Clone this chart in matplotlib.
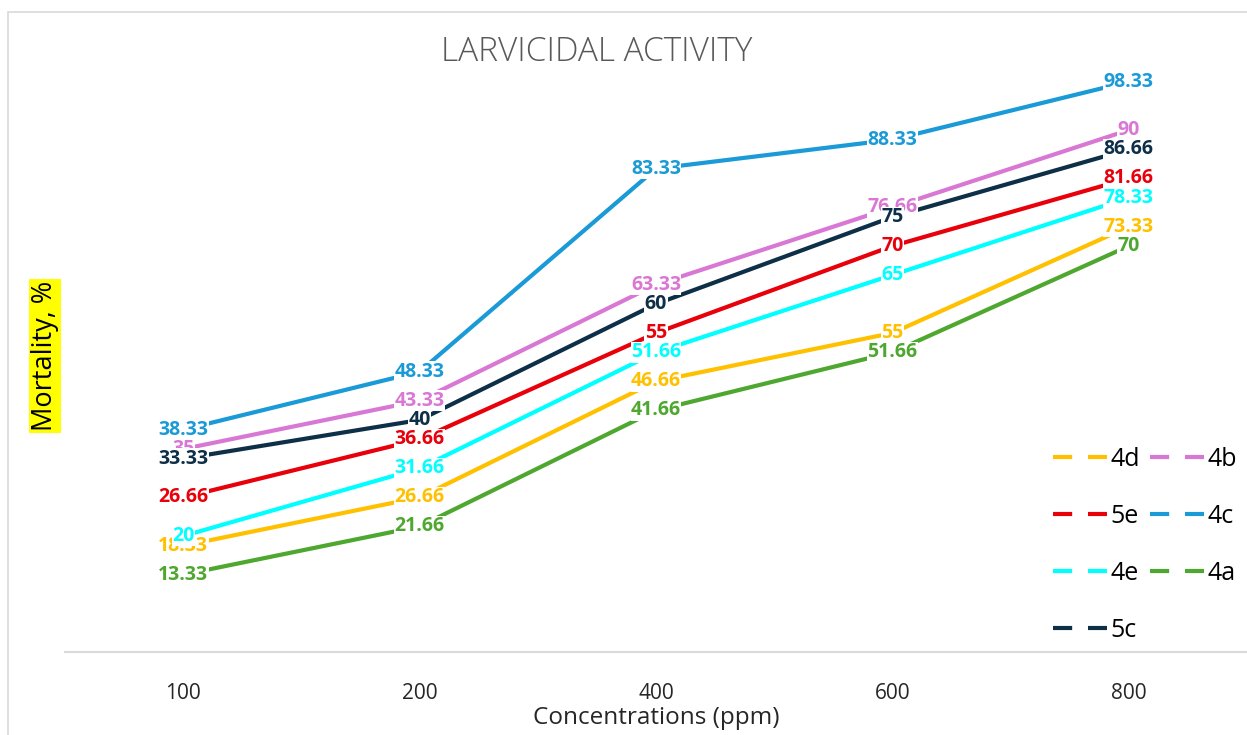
import matplotlib.pyplot as plt
from matplotlib.lines import Line2D
from matplotlib.patches import Rectangle

plt.rcParams['font.family'] = ['Open Sans', 'DejaVu Sans']

# 数据
concentrations = ['100', '200', '400', '600', '800']
series_names = ['4d', '4b', '5e', '4c', '4e', '4a', '5c']
mort_4d = [18.33, 26.66, 46.66, 55, 73.33]
mort_4b = [35, 43.33, 63.33, 76.66, 90]
mort_5e = [26.66, 36.66, 55, 70, 81.66]
mort_4c = [38.33, 48.33, 83.33, 88.33, 98.33]
mort_4e = [20, 31.66, 51.66, 65, 78.33]
mort_4a = [13.33, 21.66, 41.66, 51.66, 70]
mort_5c = [33.33, 40, 60, 75, 86.66]
label_text = {
    '4d': ['18.33', '26.66', '46.66', '55', '73.33'],
    '4b': ['35', '43.33', '63.33', '76.66', '90'],
    '5e': ['26.66', '36.66', '55', '70', '81.66'],
    '4c': ['38.33', '48.33', '83.33', '88.33', '98.33'],
    '4e': ['20', '31.66', '51.66', '65', '78.33'],
    '4a': ['13.33', '21.66', '41.66', '51.66', '70'],
    '5c': ['33.33', '40', '60', '75', '86.66'],
}
values = {'4d': mort_4d, '4b': mort_4b, '5e': mort_5e, '4c': mort_4c,
          '4e': mort_4e, '4a': mort_4a, '5c': mort_5c}
colors = {'4d': '#ffc000', '4b': '#d978d4', '5e': '#e8000b', '4c': '#1a9ad6',
          '4e': '#00ffff', '4a': '#4ea72e', '5c': '#0e2f48'}

fig = plt.figure(figsize=(12.47, 7.35), dpi=100)
# 外框
fig.patches.append(Rectangle((8 / 1247, -0.1), 1.2, (735 - 12) / 735 + 0.1,
                             transform=fig.transFigure, fill=False,
                             edgecolor='#d9d9d9', linewidth=1.2))

ax = fig.add_axes([65 / 1247, 1 - 652 / 735, 1 - 65 / 1247, (652 - 72) / 735])
x = list(range(len(concentrations)))

# 先画线
for name in series_names:
    ax.plot(x, values[name], color=colors[name], linewidth=3,
            solid_capstyle='butt', zorder=2)

# 数据标签（白底，盖住线）
for i, name in enumerate(series_names):
    for xi, v, t in zip(x, values[name], label_text[name]):
        ax.text(xi, v, t, color=colors[name], fontsize=14, fontweight='bold',
                ha='center', va='center', zorder=3 + i, clip_on=False,
                bbox=dict(facecolor='white', edgecolor='none', pad=0.3))

ax.set_xlim(-0.5, 4.5)
ax.set_ylim(0, 100)
ax.set_xticks(x)
ax.set_xticklabels(concentrations, fontsize=15, color='#262626')
ax.tick_params(axis='x', length=0, pad=22)
ax.set_yticks([])
for s in ['top', 'right', 'left']:
    ax.spines[s].set_visible(False)
ax.spines['bottom'].set_color('#d9d9d9')
ax.spines['bottom'].set_linewidth(1.5)

ax.set_xlabel('Concentrations (ppm)', fontsize=17.5, color='#262626', labelpad=2)

fig.text(45 / 1247, 1 - 356 / 735, 'Mortality, %', rotation=90, fontsize=19.5,
         ha='center', va='center', color='black',
         bbox=dict(facecolor='yellow', edgecolor='none', pad=1.5))

fig.text(597 / 1247, 1 - 52 / 735, 'LARVICIDAL ACTIVITY', fontsize=24,
         ha='center', va='center', color='#595959', fontweight='light')

# 图例，Excel按行排列
order = ['4d', '5e', '4e', '5c', '4b', '4c', '4a']
leg_handles = [Line2D([0], [0], color=colors[n], linewidth=3,
                      linestyle=(0, (4.6, 3.8))) for n in order]
leg = ax.legend(leg_handles, order, ncol=2, loc='upper left',
                bbox_to_anchor=(1053 / 1247, 1 - 447 / 735),
                bbox_transform=fig.transFigure, frameon=False, fontsize=18,
                handlelength=2.15, handletextpad=0.15, columnspacing=0.4,
                labelspacing=1.28, borderpad=0, borderaxespad=0)

fig.savefig('out.png', dpi=100)
